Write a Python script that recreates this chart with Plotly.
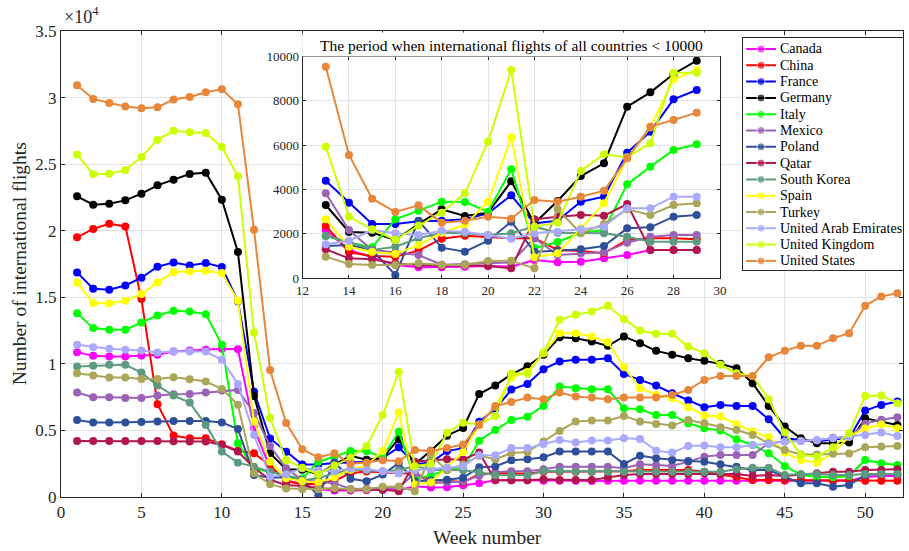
import plotly.graph_objects as go

weeks = list(range(1, 53))

countries = ["Canada", "China", "France", "Germany", "Italy", "Mexico", "Poland",
             "Qatar", "South Korea", "Spain", "Turkey", "United Arab Emirates",
             "United Kingdom", "United States"]

colors = ["#FF00FF", "#FF0000", "#0000FF", "#000000", "#00FF00", "#9B63B5", "#2F4F9A",
          "#B0174F", "#5E9A80", "#FFFF00", "#ABA659", "#A9A9FF", "#CCFF00", "#E8863A"]

canada = [10880, 10600, 10550, 10550, 10625, 10675, 10925, 11000, 11055, 11130, 11100, 5200,
          2167, 1264, 933, 587, 482, 482, 512, 542, 512, 813, 707, 737, 888, 1038, 1264, 1264,
          1264, 1228, 1228, 1228, 1203, 1228, 1228, 1228, 1228, 1228, 1228, 1228, 1228, 1228,
          1278, 1278, 1228, 1228, 1228, 1228, 1228, 1500, 1579, 1579]
china = [19500, 20130, 20530, 20325, 14865, 6970, 4610, 4410, 4410, 3960, 3480, 3285,
         2363, 1159, 993, 963, 1234, 1776, 1911, 1866, 1791, 1791, 1264, 1219, 1114, 1716, 1791, 1791,
         1746, 1905, 1905, 1905, 1905, 1905, 1930, 2030, 2030, 2030, 2030, 1905, 1700, 1529,
         1278, 1278, 1278, 1278, 1228, 1228, 1228, 1228, 1228, 1228]
france = [16870, 15640, 15565, 15890, 16470, 17300, 17620, 17395, 17570, 17270, 14700, 7900,
          4395, 3401, 2438, 2438, 2559, 2589, 2649, 2920, 3732, 2468, 2589, 3446, 3672, 5659, 6607, 8067,
          8488, 9600, 10174, 10300, 10300, 10425, 9247, 8796, 8370, 7794, 7243, 6741, 6917, 6841,
          6841, 5839, 4411, 4285, 4160, 4335, 4411, 6491, 6917, 7167]
germany = [22580, 21955, 22030, 22280, 22780, 23410, 23835, 24260, 24360, 22330, 18400, 7595,
           3296, 2077, 2047, 1716, 2438, 3100, 2799, 2950, 4365, 2468, 3476, 4605, 5177, 7736, 8383, 9211,
           9813, 10675, 12004, 11928, 11678, 11352, 12054, 11553, 10976, 10676, 10425, 10224, 9999, 9673,
           8545, 6841, 5288, 4411, 4035, 4035, 4085, 5914, 5664, 5413]
italy = [13810, 12685, 12555, 12555, 13105, 13630, 13985, 13935, 13735, 11430, 4035, 2100,
         1900, 1600, 1385, 2649, 3040, 3446, 3431, 2995, 4906, 1354, 1625, 2047, 2167, 4229, 5027, 5779,
         6035, 6841, 8295, 8170, 8094, 8094, 6666, 6591, 6165, 6165, 5538, 5162, 4987, 4335,
         3909, 3283, 2331, 1654, 1529, 1479, 1579, 2782, 2531, 2406]
mexico = [7845, 7495, 7495, 7445, 7445, 7620, 7720, 7745, 7845, 7995, 8045, 6300,
          3823, 2167, 1264, 1150, 1038, 600, 617, 662, 700, 1800, 1038, 1114, 1159, 1595, 1866, 1941,
          1941, 2080, 2280, 2280, 2280, 2280, 2155, 2456, 2406, 2331, 2656, 3032, 3158, 3158,
          3158, 4035, 4160, 4200, 4235, 4450, 4510, 5510, 5810, 5989]
poland = [5790, 5590, 5590, 5590, 5640, 5665, 5715, 5715, 5715, 5590, 5115, 1650,
          1445, 1490, 1264, 135, 2589, 1369, 1189, 1686, 2543, 1189, 1234, 1294, 1445, 2242, 2288, 2769,
          2844, 2982, 3408, 3408, 3408, 3408, 2481, 3107, 2907, 2782, 2706, 2656, 2456, 2280,
          2030, 2030, 1529, 1028, 1028, 777, 902, 1654, 1729, 1729]
qatar = [4210, 4210, 4210, 4210, 4210, 4210, 4185, 4160, 4160, 3910, 3410, 2200,
         1294, 888, 843, 650, 587, 542, 572, 542, 436, 2649, 2769, 2844, 2814, 3341, 1264, 1264,
         1264, 1328, 1278, 1278, 1278, 1479, 1654, 1729, 1729, 1729, 1729, 1779, 1729, 1729,
         1579, 1654, 1579, 1654, 1779, 1905, 1905, 2030, 2030, 2080]
south_korea = [9800, 9850, 9925, 9925, 9350, 8370, 7620, 7090, 5415, 3410, 2580, 2280,
               1896, 1640, 1264, 1415, 1791, 2047, 2017, 1941, 2017, 2318, 2047, 2047, 2017, 1866, 1640, 1640,
               1640, 1955, 1955, 1905, 1905, 1905, 1905, 1905, 1905, 1905, 1905, 1905, 1905, 2080,
               2205, 2205, 1654, 1729, 1729, 1654, 1654, 1729, 1729, 1729]
spain = [16115, 14560, 14560, 14740, 15240, 16115, 16895, 16945, 16995, 16820, 14740, 5665,
         2649, 1415, 1174, 1084, 1490, 2047, 2393, 3446, 6351, 933, 1114, 2242, 3371, 5403, 6803, 8970,
         9391, 10800, 12305, 12305, 12054, 11628, 9748, 8170, 7668, 7418, 6741, 6115, 6039, 5463,
         4912, 4486, 3333, 2782, 2581, 3300, 4536, 5150, 5450, 5162]
turkey = [9300, 9120, 8970, 8970, 8870, 8870, 9000, 8850, 8670, 8120, 6920, 1780,
          963, 632, 587, 587, 662, 587, 587, 768, 783, 436, 3100, 2017, 2438, 3100, 2844, 3296,
          3371, 4160, 4962, 5664, 5739, 5739, 6090, 5664, 5488, 5363, 5789, 5538, 5238, 5037,
          4661, 4035, 3533, 3200, 3200, 3250, 3260, 3734, 3784, 3834]
uae = [11430, 11255, 11130, 11055, 11000, 10850, 10925, 10925, 10925, 10300, 8495, 4660,
       1520, 1686, 2167, 2017, 1941, 2137, 2092, 1941, 1776, 2017, 2092, 2197, 2318, 3145, 3145, 3672,
       3672, 3985, 4285, 4100, 4235, 4235, 4411, 4360, 3483, 3333, 3834, 3859, 3734, 3734,
       3909, 3985, 4160, 4210, 4285, 4411, 4536, 4661, 4837, 4586]
uk = [25715, 24235, 24285, 24560, 25540, 26840, 27500, 27390, 27340, 26290, 24085, 12355,
      5930, 2769, 2197, 1716, 2363, 2950, 3823, 6155, 9391, 2318, 2498, 4831, 5584, 5448, 6080, 9271,
      9271, 10851, 13307, 13683, 13934, 14359, 13357, 12505, 12254, 12254, 11302, 10801, 9924, 9297,
      9097, 7343, 4837, 3158, 3032, 3734, 4787, 7593, 7618, 7042]
us = [30925, 29900, 29600, 29325, 29200, 29275, 29850, 30050, 30400, 30625, 29500, 20075,
      9542, 5553, 3582, 2980, 3281, 2498, 2589, 2769, 2679, 3522, 3446, 3672, 3943, 5403, 6833, 7134,
      7465, 7343, 7844, 7543, 7468, 7343, 7468, 7468, 7468, 7668, 8044, 8796, 9097, 9097,
      9097, 10500, 10976, 11352, 11352, 11929, 12304, 14359, 15061, 15312]

series = [canada, china, france, germany, italy, mexico, poland, qatar,
          south_korea, spain, turkey, uae, uk, us]

main_yticks = [0, 5000, 10000, 15000, 20000, 25000, 30000, 35000]
main_yticktext = ["0", "0.5", "1", "1.5", "2", "2.5", "3", "3.5"]
main_xticks = [0, 5, 10, 15, 20, 25, 30, 35, 40, 45, 50]
inset_yticks = [0, 2000, 4000, 6000, 8000, 10000]
inset_xticks = [12, 14, 16, 18, 20, 22, 24, 26, 28, 30]
inset_weeks = (13, 29)

FONT = "Liberation Serif"
W, H = 909, 551
L, R, T, B = 61, 0, 31, 54
pw, ph = W - L - R, H - T - B


def px2paper_x(px):
    return (px - L) / pw


def px2paper_y(py):
    return (H - B - py) / ph


fig = go.Figure()

# main traces
for name, col, vals in zip(countries, colors, series):
    fig.add_trace(go.Scatter(
        x=weeks, y=vals, mode="lines+markers", name=name,
        line=dict(color=col, width=2), marker=dict(color=col, size=8),
        showlegend=False, xaxis="x", yaxis="y"))

# inset traces
lo, hi = inset_weeks
for name, col, vals in zip(countries, colors, series):
    xs = [w for w in weeks if lo <= w <= hi]
    ys = [v for w, v in zip(weeks, vals) if lo <= w <= hi]
    fig.add_trace(go.Scatter(
        x=xs, y=ys, mode="lines+markers", name=name,
        line=dict(color=col, width=2), marker=dict(color=col, size=8),
        showlegend=False, xaxis="x2", yaxis="y2"))

# legend (drawn in its own small subplot)
step = 16.3
for i, (name, col) in enumerate(zip(countries, colors)):
    yc = 11 + step * i
    fig.add_trace(go.Scatter(
        x=[3, 18, 33], y=[yc, yc, yc], mode="lines+markers",
        line=dict(color=col, width=2), marker=dict(color=col, size=[0, 8, 0]),
        showlegend=False, hoverinfo="skip", xaxis="x3", yaxis="y3"))
    fig.add_annotation(x=35, y=yc, xref="x3", yref="y3", text=name, showarrow=False,
                       xanchor="left", yanchor="middle",
                       font=dict(family=FONT, size=14, color="#000000"))

# blank strip behind the inset title
fig.add_trace(go.Scatter(x=[None], y=[None], showlegend=False, xaxis="x4", yaxis="y4"))

inset_x = [px2paper_x(304.3), px2paper_x(724.6)]
inset_y = [px2paper_y(278), px2paper_y(56.5)]

axis_common = dict(ticks="inside", showline=True, linecolor="#262626", linewidth=1,
                   mirror="ticks", showgrid=True, gridcolor="#E2E2E2", gridwidth=1,
                   zeroline=False, tickcolor="#262626")

fig.update_layout(
    width=W, height=H,
    margin=dict(l=L, r=R, t=T, b=B),
    paper_bgcolor="white", plot_bgcolor="white",
    showlegend=False,
    font=dict(family=FONT, color="#262626"),
    xaxis=dict(domain=[0, 1], range=[0, 52.35], tickvals=main_xticks, ticklen=4,
               tickfont=dict(size=17, family=FONT), anchor="y", **axis_common),
    yaxis=dict(domain=[0, 1], range=[0, 35000], tickvals=main_yticks, ticktext=main_yticktext,
               ticklen=4, tickfont=dict(size=17, family=FONT), anchor="x", **axis_common),
    xaxis2=dict(domain=inset_x, range=[12, 30], tickvals=inset_xticks,
                ticktext=[str(v) for v in inset_xticks], ticklen=3,
                tickfont=dict(size=13, family=FONT), anchor="y2", **axis_common),
    yaxis2=dict(domain=inset_y, range=[0, 10000], tickvals=inset_yticks,
                ticktext=[str(v) for v in inset_yticks], ticklen=3,
                tickfont=dict(size=13, family=FONT), anchor="x2", **axis_common),
    xaxis3=dict(domain=[px2paper_x(748), 1.0], range=[0, 161], showgrid=False,
                showticklabels=False, ticks="", zeroline=False, showline=True, mirror=True,
                linecolor="#262626", linewidth=1, anchor="y3", fixedrange=True),
    yaxis3=dict(domain=[px2paper_y(270), px2paper_y(38)], range=[232, 0], showgrid=False,
                showticklabels=False, ticks="", zeroline=False, showline=True, mirror=True,
                linecolor="#262626", linewidth=1, anchor="x3", fixedrange=True),
    xaxis4=dict(domain=inset_x, range=[0, 1], showgrid=False, showticklabels=False,
                ticks="", zeroline=False, showline=False, anchor="y4", fixedrange=True),
    yaxis4=dict(domain=[px2paper_y(56.5), px2paper_y(32.5)], range=[0, 1], showgrid=False,
                showticklabels=False, ticks="", zeroline=False, showline=False, anchor="x4",
                fixedrange=True),
)

# axis titles and labels
fig.add_annotation(x=px2paper_x(490.5), y=px2paper_y(537), xref="paper", yref="paper",
                   text="Week number", showarrow=False, xanchor="center", yanchor="middle",
                   font=dict(family=FONT, size=19.5, color="#262626"))
fig.add_annotation(x=px2paper_x(19), y=px2paper_y(264), xref="paper", yref="paper",
                   text="Number of international flights", showarrow=False, textangle=-90,
                   xanchor="center", yanchor="middle",
                   font=dict(family=FONT, size=19.5, color="#262626"))
fig.add_annotation(x=px2paper_x(62), y=px2paper_y(29), xref="paper", yref="paper",
                   text="×10<sup>4</sup>", showarrow=False, xanchor="left", yanchor="bottom",
                   font=dict(family=FONT, size=18, color="#262626"))
fig.add_annotation(x=px2paper_x(514.5), y=px2paper_y(46), xref="paper", yref="paper",
                   text="The period when international flights of all countries &lt; 10000",
                   showarrow=False, xanchor="center", yanchor="middle",
                   font=dict(family=FONT, size=15.5, color="#000000"))

fig.write_html("out.html")
